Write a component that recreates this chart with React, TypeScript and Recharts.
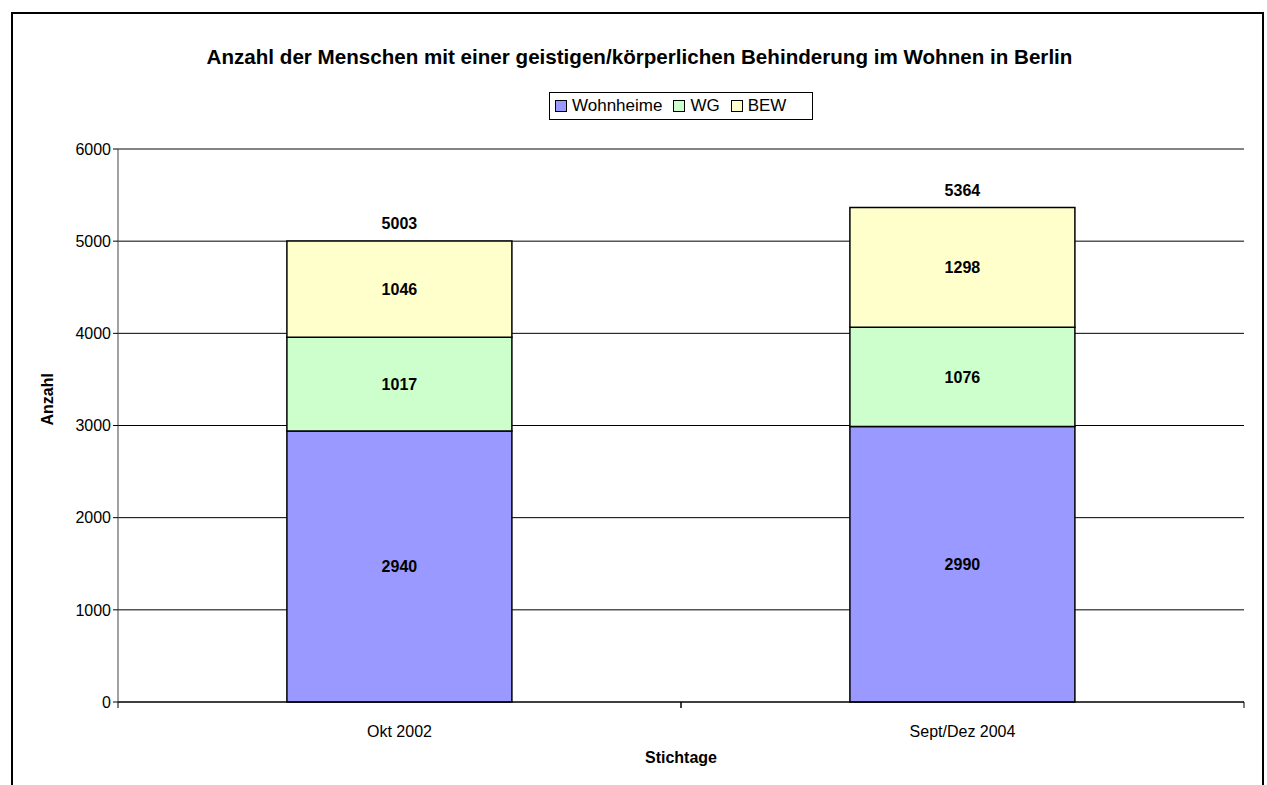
import { BarChart, Bar, XAxis, YAxis, CartesianGrid, LabelList, ReferenceLine } from "recharts";

const categories = ["Okt 2002", "Sept/Dez 2004"];
const wohnheime = [2940, 2990];
const wg = [1017, 1076];
const bew = [1046, 1298];
const totals = [5003, 5364];
const yTicks = [0, 1000, 2000, 3000, 4000, 5000, 6000];

const series = [
  { key: "wohnheime", name: "Wohnheime", color: "#9999FF" },
  { key: "wg", name: "WG", color: "#CCFFCC" },
  { key: "bew", name: "BEW", color: "#FFFFCC" },
];

const data = categories.map((c, i) => ({
  cat: c,
  wohnheime: wohnheime[i],
  wg: wg[i],
  bew: bew[i],
  total: totals[i],
}));

const FONT = "'Liberation Sans', Arial, sans-serif";
const W = 1267;
const H = 785;
const plotLeft = 118;
const plotRight = 1244;
const halfBand = (plotRight - plotLeft) / categories.length / 2;

const CatTick = (props: any) => {
  const { x, y, payload } = props;
  return (
    <g>
      <line x1={x - halfBand} x2={x - halfBand} y1={y - 8} y2={y - 2} stroke="#000" />
      <line x1={x + halfBand} x2={x + halfBand} y1={y - 8} y2={y - 2} stroke="#000" />
      <text x={x} y={y + 27} textAnchor="middle" fontSize={16} fill="#000" fontFamily={FONT}>
        {payload.value}
      </text>
    </g>
  );
};

const TotalLabel = (props: any) => {
  const { x, y, width, index } = props;
  return (
    <text x={x + width / 2} y={y - 12} textAnchor="middle" fontSize={16} fontWeight="bold" fill="#000" fontFamily={FONT}>
      {totals[index]}
    </text>
  );
};

const LegendBox = () => (
  <div
    style={{
      position: "absolute",
      left: 549,
      top: 92,
      width: 264,
      height: 28,
      border: "1px solid #000",
      background: "#fff",
      display: "flex",
      alignItems: "center",
      padding: "0 6px 0 5px",
      fontFamily: FONT,
      fontSize: 17,
      color: "#000",
      boxSizing: "border-box",
    }}
  >
    {series.map((s) => (
      <span key={s.key} style={{ display: "flex", alignItems: "center", marginRight: 11 }}>
        <span style={{ width: 10, height: 10, background: s.color, border: "1px solid #000", marginRight: 5 }} />
        {s.name}
      </span>
    ))}
  </div>
);

export default function App() {
  return (
    <div style={{ position: "absolute", left: 0, top: 0, width: W, height: H, overflow: "hidden", background: "#fff" }}>
      <div
        style={{
          position: "absolute",
          left: 11,
          top: 12,
          width: 1253,
          height: 900,
          border: "2px solid #000",
          boxSizing: "border-box",
        }}
      />
      <div
        style={{
          position: "absolute",
          left: 6,
          top: 45,
          width: W,
          textAlign: "center",
          fontFamily: FONT,
          fontWeight: "bold",
          fontSize: 20.6,
        }}
      >
        Anzahl der Menschen mit einer geistigen/körperlichen Behinderung im Wohnen in Berlin
      </div>
      <BarChart
        width={W}
        height={H}
        data={data}
        margin={{ top: 149, right: W - plotRight, bottom: 53, left: plotLeft - 60 }}
        barCategoryGap="30%"
        style={{ position: "absolute", left: 0, top: 0 }}
      >
        <CartesianGrid horizontal vertical={false} stroke="#000" strokeWidth={1} />
        <XAxis
          dataKey="cat"
          height={30}
          tickLine={false}
          axisLine={{ stroke: "#000" }}
          tick={<CatTick />}
          label={{ value: "Stichtage", position: "insideBottom", offset: -31, fontSize: 16, fontWeight: "bold", fill: "#000", fontFamily: FONT }}
        />
        <YAxis
          width={60}
          domain={[0, 6000]}
          ticks={yTicks}
          interval={0}
          axisLine={{ stroke: "#444" }}
          tickLine={{ stroke: "#000" }}
          tickSize={5}
          tick={{ fontSize: 16, fill: "#000", fontFamily: FONT }}
          label={{ value: "Anzahl", angle: -90, position: "insideLeft", offset: -11, fontSize: 16, fontWeight: "bold", fill: "#000", fontFamily: FONT }}
        />
        <YAxis yAxisId="r" orientation="right" width={0} tick={false} tickLine={false} axisLine={{ stroke: "#888" }} />
        <ReferenceLine y={6000} stroke="#888" />
        {series.map((s, i) => (
          <Bar key={s.key} dataKey={s.key} name={s.name} stackId="a" fill={s.color} stroke="#000" strokeWidth={1.5} isAnimationActive={false}>
            <LabelList dataKey={s.key} position="center" fontSize={16} fontWeight="bold" fill="#000" fontFamily={FONT} />
            {i === series.length - 1 && <LabelList dataKey="total" content={<TotalLabel />} />}
          </Bar>
        ))}
      </BarChart>
      <LegendBox />
    </div>
  );
}
